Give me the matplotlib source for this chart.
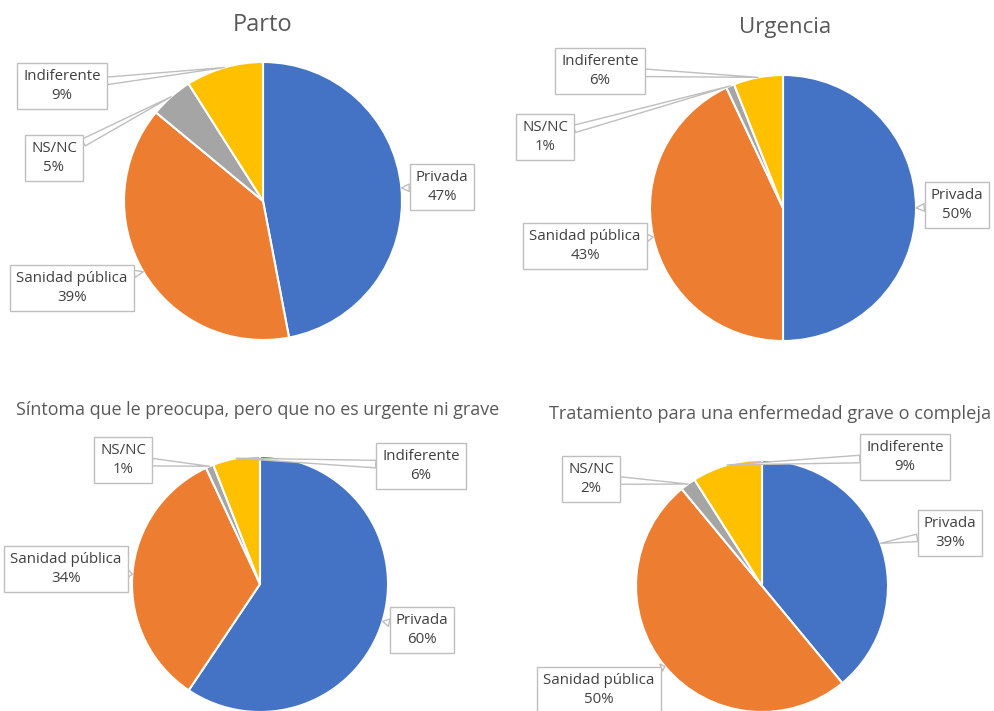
import numpy as np
import matplotlib.pyplot as plt

plt.rcParams['font.family'] = ['Open Sans', 'DejaVu Sans']

# data
categories = ['Privada', 'Sanidad pública', 'NS/NC', 'Indiferente']
colors = ['#4472C4', '#ED7D31', '#A5A5A5', '#FFC000']

titles = ['Parto', 'Urgencia',
          'Síntoma que le preocupa, pero que no es urgente ni grave',
          'Tratamiento para una enfermedad grave o compleja']
parto = [47, 39, 5, 9]
urgencia = [50, 43, 1, 6]
sintoma = [60, 34, 1, 6]
tratamiento = [39, 50, 2, 9]
series = [parto, urgencia, sintoma, tratamiento]

# layout (pixel coords, y from top)
W, H = 995, 711
centers = [(263, 201), (783, 208), (260, 584), (762, 586)]
radii = [139, 133, 128, 126]
title_pos = [(263, 25, 17), (785, 28, 16), (258, 410, 12.9), (770, 414, 13.1)]
label_pos = [
    [(442, 187), (72, 288), (54, 158), (62, 86)],
    [(957, 205), (585, 246), (545, 137), (600, 71)],
    [(422, 630), (66, 569), (123, 460), (421, 466)],
    [(950, 533), (599, 690), (591, 479), (905, 457)],
]

fig = plt.figure(figsize=(W / 100, H / 100), dpi=100)
ax = fig.add_axes([0, 0, 1, 1])

for vals, (cx, cy), r, (tx, ty, tfs), lpos, title in zip(series, centers, radii, title_pos, label_pos, titles):
    cy = H - cy
    ax.pie(vals, colors=colors, startangle=90, counterclock=False, center=(cx, cy), radius=r,
           wedgeprops=dict(edgecolor='white', linewidth=1.5), frame=True)
    ax.text(tx, H - ty, title, ha='center', va='center', fontsize=tfs, color='#595959')

    # callout boxes pointing at the middle of each slice's arc
    total = float(sum(vals))
    start = 90.0
    for v, cat, (lx, ly) in zip(vals, categories, lpos):
        mid = np.deg2rad(start - v / total * 360 / 2)
        start -= v / total * 360
        px, py = cx + r * np.cos(mid), cy + r * np.sin(mid)
        ax.annotate(f'{cat}\n{v}%', xy=(px, py), xytext=(lx, H - ly),
                    ha='center', va='center', fontsize=10.8, color='#404040',
                    linespacing=1.4,
                    bbox=dict(boxstyle='square,pad=0.4', fc='white', ec='#BFBFBF', lw=1),
                    arrowprops=dict(arrowstyle='wedge,tail_width=0.5', fc='white', ec='#BFBFBF',
                                    lw=1, shrinkA=0, shrinkB=0))

ax.set_xlim(0, W)
ax.set_ylim(0, H)
ax.set_aspect('equal')
ax.axis('off')

fig.savefig('out.png', dpi=100)
